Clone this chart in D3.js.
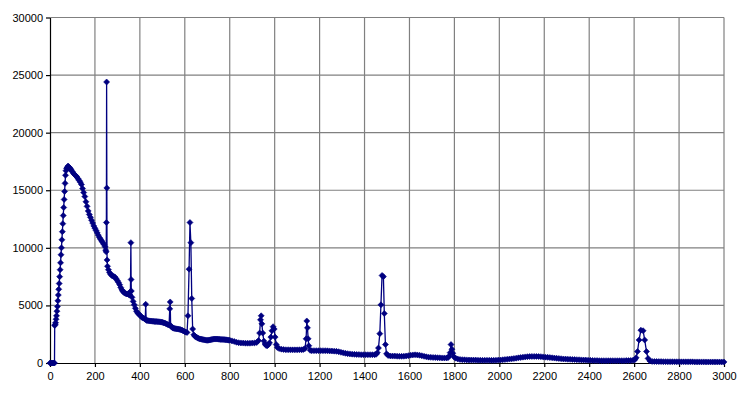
<html>
<head>
<meta charset="utf-8">
<title>Spectrum</title>
<style type="text/css">
body { margin: 0; background: #fff; }
svg { font-family: Arial, "Liberation Sans", sans-serif; }
.grid line { stroke: #808080; stroke-width: 1.2px; }
.axis path, .axis line { stroke: #000; stroke-width: 1.2px; }
.axis text { font-size: 11px; fill: #000; }
.trace { fill: none; stroke: #000080; stroke-width: 1.3px; }
.marker { fill: #000080; stroke: #000080; stroke-width: 0.6px; }
</style>
</head>
<body>
<script src="https://d3js.org/d3.v7.min.js"></script>
<script>
// [x, counts], split by region
var onset = [
  [0,0],[4,0],[8,0],[12,0],[16,0],[20,0],
  [21,3250],[23,3350],[25,3500],[27,3800],[29,4100],[31,4500],[33,4900],[35,5400],
  [37,5900],[39,6400],[41,6900],[43,7500],[45,8100],[47,8700],[49,9400],[51,10000],
  [53,10700],[55,11400],[57,12100],[59,12800],[61,13500],[63,14200],[65,14900],
  [67,15600],[69,16300],[71,16700],[74,16900],[77,17000],[80,17100],[83,17050],
  [86,16950],[89,16850]
];

var mainDecay = [
  [90,16900],[95,16750],[100,16600],[105,16450],[110,16350],[115,16250],[120,16150],
  [125,16000],[130,15850],[135,15700],[140,15500],[145,15150],[150,14800],[155,14450],
  [160,14000],[165,13600],[170,13200],[175,12900],[180,12650],[185,12400],[190,12150],
  [195,11900],[200,11700],[205,11500],[210,11300],[215,11100],[220,10900],[225,10750],
  [230,10600],[235,10450],[240,10300],[245,10100],[248,9800],[250,9650],
  [251,12200],[252,24400],[253,15200],[254,8950],[256,8400],
  [260,8100],[265,7850],[270,7700],[275,7600],[280,7550],[285,7500],[290,7450],
  [295,7300],[300,7150],[305,7000],[310,6800],[315,6550],[320,6350],[325,6200],
  [330,6100],[335,6050],[340,6000],[345,6000],[350,5950],[355,5900],
  [358,6200],[360,10450],[361,7250],[362,6250],
  [365,5700],[370,5350],[375,5050],[380,4750],[385,4500],[390,4350],[395,4250],
  [400,4150],[405,4050],[410,3950],[415,3900],[420,3850],[424,3800],[426,5100],
  [428,3750],[430,3700],[435,3680],[440,3660],[445,3650],[450,3640],[455,3630],
  [460,3620],[465,3610],[470,3600],[475,3600],[480,3590],[485,3580],[490,3570],
  [495,3550],[500,3530],[505,3500],[510,3470],[515,3430],[520,3380],[525,3330],
  [530,3300],[533,4700],[535,5300],[537,3250],[540,3150],[545,3060],[550,3020],
  [555,3000],[560,2980],[565,2960],[570,2950],[575,2920],[580,2900],[585,2870],
  [590,2830],[595,2780],[600,2720],[605,2680],[610,2650],
  [614,4100],[619,8150],[623,12200],[627,10450],[631,5600],[635,2950],
  [640,2450],[645,2320],[650,2250],[655,2200],[660,2150],[665,2100],[670,2080],
  [675,2060],[680,2040],[685,2020],[690,2000],[695,1980],[700,1970],[705,1980],
  [710,2000],[715,2020],[720,2040],[725,2060],[730,2080],[735,2080],[740,2080],
  [745,2080],[750,2070],[755,2060],[760,2050],[765,2050],[770,2040],[775,2030],
  [780,2020],[785,2010],[790,2000],[795,1980]
];

var midRange = [
  [800,1980],[810,1920],[820,1870],[830,1800],[840,1760],[850,1740],[860,1730],
  [870,1720],[880,1720],[890,1720],[900,1730],[910,1740],[920,1780],[928,1950],
  [933,2600],[937,3750],[940,4100],[943,3400],[947,2600],[952,1900],[957,1650],
  [962,1520],[967,1500],[972,1580],[977,1750],[983,2250],[988,2800],[993,3150],
  [998,2950],[1002,2250],[1007,1600],[1012,1350],[1020,1250],[1030,1200],[1040,1170],
  [1050,1150],[1060,1150],[1070,1140],[1080,1140],[1090,1140],[1100,1140],[1110,1150],
  [1120,1150],[1128,1180],[1135,1250],[1140,2100],[1143,3650],[1146,3050],[1149,2100],
  [1152,1500],[1158,1100],[1165,1070],[1175,1070],[1185,1070],[1195,1070],[1205,1070],
  [1215,1070],[1225,1070],[1235,1060],[1245,1050],[1255,1040],[1265,1030],[1275,1010],
  [1285,980],[1295,930],[1305,880],[1315,840],[1325,810],[1335,790],[1345,770],
  [1355,750],[1365,740],[1375,730],[1385,720],[1395,720],[1405,720],[1415,720],
  [1425,720],[1435,720],[1445,720],[1452,760],[1457,900],[1462,1300],[1468,2550],
  [1473,5050],[1478,7600],[1484,7500],[1488,4300],[1493,1600],[1498,800],[1505,650],
  [1515,610],[1525,600],[1535,600],[1545,590],[1555,580],[1565,580],[1575,590],
  [1585,610],[1595,640],[1605,680],[1615,700],[1625,710],[1635,700],[1645,670],
  [1655,630],[1665,580],[1675,540],[1685,510],[1695,490],[1705,480],[1715,470],
  [1725,460],[1735,450],[1745,440],[1755,440],[1765,440],[1772,470],[1777,600],
  [1781,900],[1785,1600],[1789,1200],[1793,850],[1798,550],[1805,420],[1815,350],
  [1825,310],[1835,290],[1845,280],[1855,270],[1865,260],[1875,260],[1885,250],
  [1895,250],[1905,240],[1915,240],[1925,230],[1935,230],[1945,230],[1955,230],
  [1965,230],[1975,230],[1985,240],[1995,250]
];

var tail = [
  [2005,260],[2015,280],[2025,300],[2035,320],[2045,340],[2055,360],[2065,390],
  [2075,420],[2085,450],[2095,480],[2105,510],[2115,530],[2125,550],[2135,560],
  [2145,570],[2155,570],[2165,570],[2175,560],[2185,550],[2195,530],[2205,510],
  [2215,490],[2225,470],[2235,450],[2245,430],[2255,410],[2265,390],[2275,370],
  [2285,350],[2295,340],[2305,330],[2315,320],[2325,310],[2335,300],[2345,290],
  [2355,280],[2365,270],[2375,260],[2385,250],[2395,240],[2405,230],[2415,220],
  [2425,210],[2435,210],[2445,200],[2455,200],[2465,200],[2475,200],[2485,200],
  [2495,200],[2505,200],[2515,200],[2525,200],[2535,200],[2545,200],[2555,200],
  [2565,210],[2575,210],[2585,220],[2595,230],[2603,280],[2609,450],[2615,1000],
  [2622,2000],[2630,2850],[2640,2800],[2647,2000],[2655,1000],[2662,400],[2670,180],
  [2680,140],[2690,130],[2700,125],[2710,120],[2720,120],[2730,115],[2740,115],
  [2750,110],[2760,110],[2770,110],[2780,105],[2790,105],[2800,105],[2810,100],
  [2820,100],[2830,100],[2840,100],[2850,100],[2860,100],[2870,95],[2880,95],
  [2890,95],[2900,95],[2910,95],[2920,90],[2930,90],[2940,90],[2950,90],[2960,90],
  [2970,90],[2980,90],[2990,90],[3000,90]
];

var xTicks = [0, 200, 400, 600, 800, 1000, 1200, 1400, 1600, 1800, 2000, 2200, 2400, 2600, 2800, 3000];
var yTicks = [0, 5000, 10000, 15000, 20000, 25000, 30000];

var data = onset.concat(mainDecay, midRange, tail);

var W = 750, H = 394;
var padL = 50, padR = 724, padT = 17.5, padB = 363;

var x = d3.scaleLinear().domain([0, 3000]).range([padL, padR]);
var y = d3.scaleLinear().domain([0, 30000]).range([padB, padT]);

var svg = d3.select("body").append("svg")
    .attr("width", W)
    .attr("height", H);

// gridlines
var grid = svg.append("g").attr("class", "grid");
grid.selectAll("line.v").data(xTicks.slice(1)).enter().append("line")
    .attr("class", "v")
    .attr("x1", d => x(d)).attr("x2", d => x(d))
    .attr("y1", padT).attr("y2", padB);
grid.selectAll("line.h").data(yTicks.slice(1)).enter().append("line")
    .attr("class", "h")
    .attr("x1", padL).attr("x2", padR)
    .attr("y1", d => y(d)).attr("y2", d => y(d));

// axes
svg.append("g").attr("class", "axis")
    .attr("transform", "translate(0," + padB + ")")
    .call(d3.axisBottom(x).tickValues(xTicks).tickFormat(d3.format("d")).tickSize(4).tickSizeOuter(0).tickPadding(5));
svg.append("g").attr("class", "axis")
    .attr("transform", "translate(" + padL + ",0)")
    .call(d3.axisLeft(y).tickValues(yTicks).tickFormat(d3.format("d")).tickSize(4).tickSizeOuter(0).tickPadding(3));

// trace
var line = d3.line().x(d => x(d[0])).y(d => y(d[1]));
svg.append("path").datum(data).attr("class", "trace").attr("d", line);

// diamond markers
var diamond = "M0,-3L3,0L0,3L-3,0Z";
svg.append("g").selectAll("path").data(data).enter().append("path")
    .attr("class", "marker")
    .attr("d", diamond)
    .attr("transform", d => "translate(" + x(d[0]) + "," + y(d[1]) + ")");
</script>
</body>
</html>
